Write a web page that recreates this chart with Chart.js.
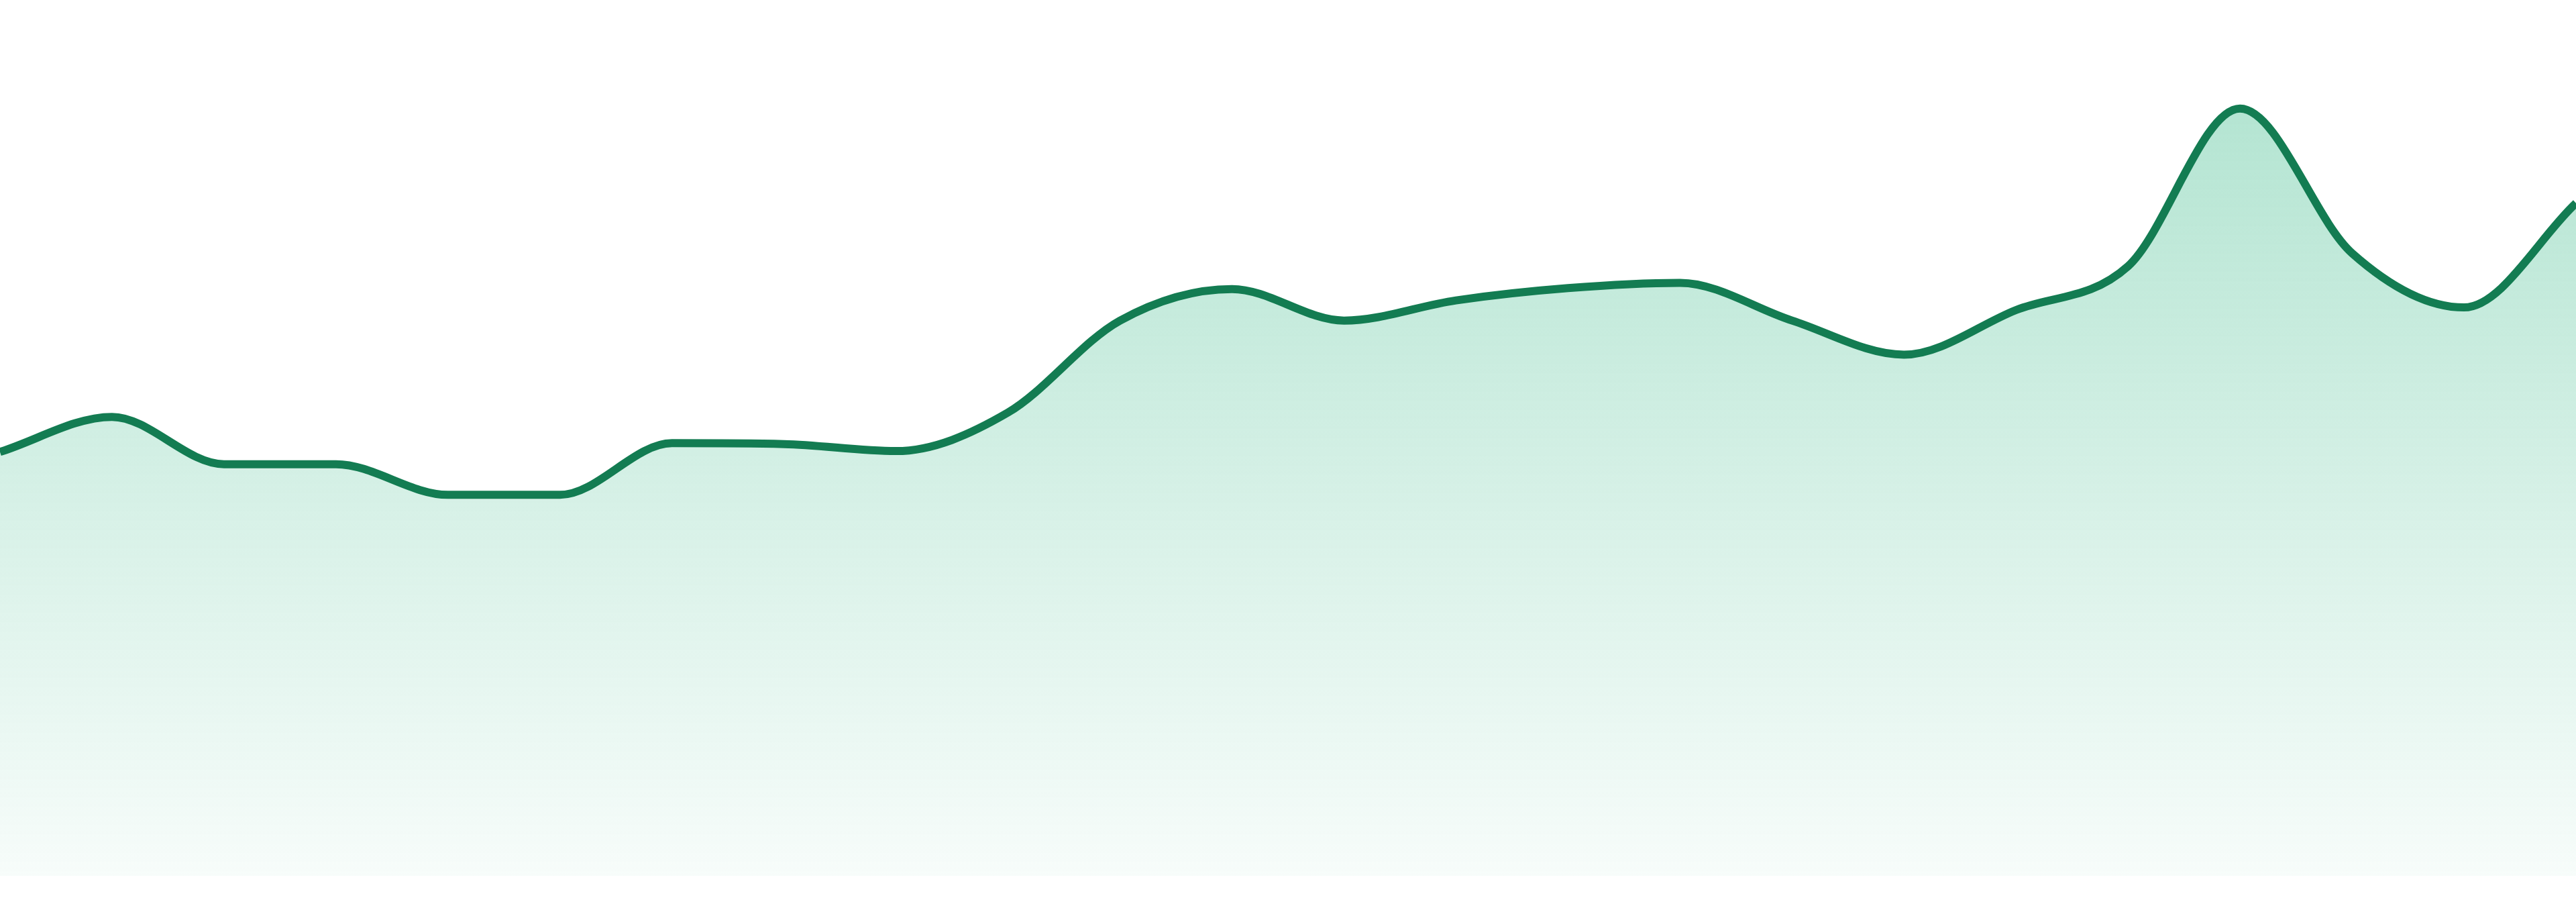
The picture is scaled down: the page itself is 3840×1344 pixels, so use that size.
<!DOCTYPE html>
<html>
<head>
<meta charset="utf-8">
<script src="https://cdn.jsdelivr.net/npm/chart.js@4"></script>
<style>
  html, body { margin: 0; padding: 0; background: #ffffff; }
  #wrap { width: 3840px; height: 1344px; position: relative; }
</style>
</head>
<body>
<div id="wrap"><canvas id="c"></canvas></div>
<script>
// Data (arbitrary units, 0..100 scale)
const labels = ["1","2","3","4","5","6","7","8","9","10","11","12",
                "13","14","15","16","17","18","19","20","21","22","23","24"];
const values = [48.4, 52.4, 47.0, 47.0, 43.5, 43.5, 49.4, 49.3, 48.5, 52.9, 63.4, 67.0,
                63.4, 65.7, 67.1, 67.7, 63.4, 59.5, 64.6, 69.6, 87.6, 71.1, 64.9, 76.8];
const yMin = 0;
const yMax = 100;

const lineColor = "rgb(19,124,82)";

new Chart(document.getElementById("c"), {
  type: "line",
  data: {
    labels: labels,
    datasets: [{
      data: values,
      borderColor: lineColor,
      borderWidth: 12,
      pointRadius: 0,
      pointHoverRadius: 0,
      cubicInterpolationMode: "monotone",
      fill: "start",
      backgroundColor: (ctx) => {
        const chart = ctx.chart;
        const area = chart.chartArea;
        if (!area) return "rgba(50,183,132,0.2)";
        const g = chart.ctx.createLinearGradient(0, area.top, 0, area.bottom);
        g.addColorStop(0, "rgba(50,183,132,0.41)");
        g.addColorStop(1, "rgba(50,183,132,0.04)");
        return g;
      }
    }]
  },
  options: {
    responsive: true,
    maintainAspectRatio: false,
    devicePixelRatio: 1,
    animation: false,
    layout: { padding: { top: 0, bottom: 39, left: 0, right: 0 } },
    plugins: { legend: { display: false }, tooltip: { enabled: false } },
    scales: {
      x: { display: false, offset: false },
      y: { display: false, min: yMin, max: yMax }
    }
  }
});
</script>
</body>
</html>
